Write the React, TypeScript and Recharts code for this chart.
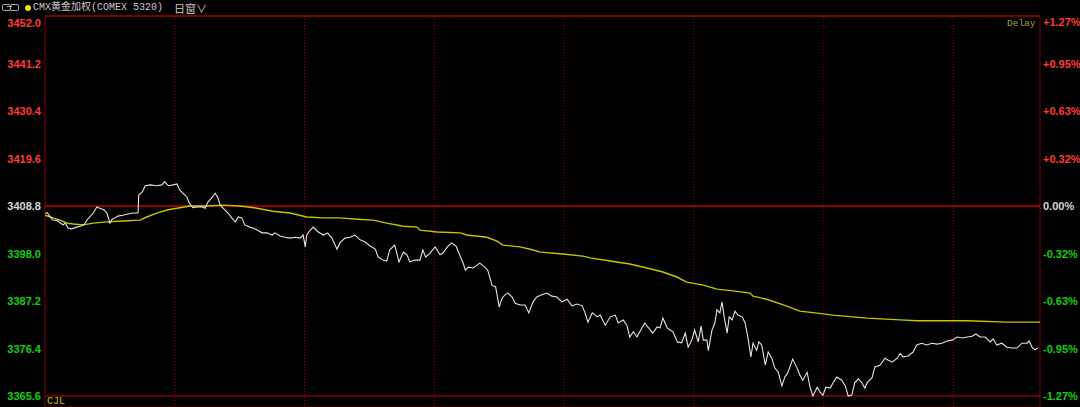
import { CartesianGrid, Line, LineChart, ReferenceLine, XAxis, YAxis } from "recharts";

// minutes since session open (23h session) and last price
const priceMinutes = [
  0, 3, 7, 11, 17, 21, 25, 28, 32, 37, 44, 51, 55, 58, 62, 67, 72, 76, 82, 86, 90, 93, 97, 101, 108, 115, 122, 129,
  130, 135, 139, 146, 155, 162, 166, 171, 178, 183, 187, 191, 197, 200, 205, 211, 218, 222, 226, 232, 236, 240, 243,
  247, 254, 259, 264, 268, 273, 277, 284, 288, 295, 301, 308, 315, 319, 326, 333, 340, 347, 354, 358, 361, 363, 368,
  372, 379, 386, 392, 398, 405, 409, 416, 423, 430, 437, 444, 451, 458, 462, 469, 474, 478, 485, 491, 497, 502, 506,
  513, 520, 524, 528, 534, 541, 548, 552, 558, 564, 570, 574, 580, 583, 587, 594, 603, 610, 614, 620, 625, 630, 634,
  638, 642, 648, 652, 659, 666, 671, 677, 682, 689, 696, 703, 710, 717, 724, 731, 738, 745, 749, 753, 759, 766, 770,
  777, 784, 791, 795, 802, 807, 811, 816, 821, 828, 832, 836, 843, 849, 853, 857, 863, 867, 871, 877, 883, 888, 892,
  897, 901, 906, 910, 913, 918, 920, 925, 929, 932, 936, 939, 942, 946, 949, 953, 957, 961, 967, 971, 975, 979, 982,
  987, 990, 994, 999, 1003, 1008, 1012, 1017, 1022, 1026, 1030, 1037, 1043, 1047, 1051, 1057, 1061, 1065, 1071, 1075,
  1079, 1083, 1089, 1093, 1098, 1105, 1110, 1114, 1119, 1123, 1128, 1133, 1137, 1141, 1147, 1151, 1158, 1165, 1169,
  1175, 1182, 1186, 1190, 1197, 1204, 1209, 1216, 1223, 1230, 1237, 1244, 1251, 1258, 1265, 1272, 1279, 1286, 1291,
  1297, 1304, 1311, 1315, 1320, 1327, 1334, 1341, 1348, 1355, 1362, 1365, 1369, 1373, 1377,
];
const prices = [
  3407.1, 3407.3, 3406.4, 3405.6, 3405.5, 3405.0, 3404.5, 3404.9, 3403.8, 3403.6, 3404.0, 3404.3, 3404.7, 3405.6,
  3406.3, 3407.2, 3408.6, 3408.3, 3407.9, 3407.2, 3404.9, 3405.8, 3406.1, 3406.5, 3406.7, 3407.0, 3407.2, 3407.2,
  3411.3, 3412.0, 3413.4, 3413.6, 3413.4, 3413.6, 3414.3, 3413.4, 3413.6, 3413.8, 3412.4, 3411.8, 3410.8, 3409.5,
  3408.4, 3408.6, 3408.6, 3408.3, 3409.7, 3410.8, 3411.7, 3410.6, 3409.0, 3408.3, 3407.2, 3406.1, 3405.2, 3406.3,
  3406.1, 3404.5, 3404.0, 3403.8, 3403.3, 3402.7, 3402.7, 3402.2, 3402.7, 3402.0, 3401.7, 3401.5, 3401.7, 3401.5,
  3402.2, 3399.5, 3402.2, 3403.3, 3404.0, 3402.9, 3402.2, 3402.7, 3401.5, 3399.0, 3400.4, 3401.5, 3401.7, 3402.2,
  3401.1, 3400.6, 3399.7, 3399.0, 3397.2, 3396.5, 3396.3, 3398.8, 3399.9, 3396.1, 3398.3, 3397.7, 3396.1, 3396.5,
  3396.5, 3398.8, 3397.2, 3398.1, 3399.5, 3397.7, 3398.1, 3399.5, 3400.4, 3399.7, 3398.1, 3395.8, 3394.2, 3394.9,
  3394.7, 3395.8, 3394.9, 3394.2, 3390.8, 3390.4, 3385.8, 3387.9, 3388.6, 3389.0, 3388.1, 3386.7, 3386.3, 3386.3,
  3384.5, 3387.0, 3388.1, 3388.6, 3389.0, 3388.3, 3388.1, 3387.0, 3387.6, 3386.1, 3386.5, 3386.1, 3384.5, 3382.4,
  3384.5, 3383.6, 3384.0, 3381.7, 3383.6, 3384.0, 3382.2, 3382.9, 3381.7, 3379.0, 3380.2, 3379.0, 3381.1, 3382.2,
  3381.3, 3379.9, 3381.3, 3381.1, 3383.3, 3381.1, 3380.6, 3380.2, 3377.9, 3377.7, 3379.9, 3376.7, 3378.3, 3380.6,
  3377.9, 3381.5, 3378.3, 3378.3, 3375.9, 3380.6, 3382.2, 3385.2, 3384.5, 3387.0, 3383.6, 3379.9, 3383.6, 3382.9,
  3384.9, 3384.0, 3383.6, 3382.2, 3378.8, 3374.5, 3377.6, 3376.0, 3377.9, 3377.2, 3372.7, 3375.6, 3374.2, 3372.0,
  3371.0, 3367.9, 3369.9, 3370.8, 3374.0, 3372.0, 3370.4, 3369.2, 3371.0, 3367.6, 3365.6, 3367.6, 3366.5, 3365.8,
  3367.6, 3367.4, 3368.6, 3369.9, 3369.2, 3367.9, 3365.6, 3365.8, 3368.6, 3369.5, 3368.6, 3367.4, 3368.8, 3369.7,
  3372.2, 3372.6, 3374.2, 3373.8, 3373.3, 3374.2, 3375.3, 3374.5, 3374.7, 3375.6, 3377.2, 3377.6, 3377.2, 3377.6,
  3377.4, 3377.6, 3378.1, 3378.3, 3379.0, 3378.8, 3379.0, 3379.2, 3379.7, 3379.0, 3379.0, 3377.9, 3378.6, 3377.2,
  3377.6, 3376.7, 3376.5, 3376.5, 3377.6, 3377.6, 3378.1, 3376.7, 3376.1, 3376.5,
];

// average price line
const avgMinutes = [
  0, 11, 21, 31, 39, 53, 67, 86, 108, 132, 141, 155, 169, 183, 201, 225, 247, 270, 294, 316, 340, 363, 386, 409, 433,
  455, 474, 497, 516, 520, 544, 576, 585, 613, 627, 635, 659, 677, 687, 718, 746, 756, 784, 811, 835, 857, 877, 890,
  913, 932, 954, 978, 982, 1001, 1024, 1047, 1068, 1093, 1140, 1186, 1209, 1279, 1334, 1380,
];
const avgPrices = [
  3406.7, 3406.1, 3405.6, 3404.9, 3404.7, 3404.5, 3404.9, 3405.2, 3405.4, 3405.6, 3406.3, 3407.2, 3407.9, 3408.3,
  3408.8, 3408.8, 3409.0, 3408.8, 3408.3, 3407.6, 3407.2, 3406.3, 3406.1, 3406.1, 3405.8, 3405.6, 3404.9, 3404.2,
  3404.0, 3403.3, 3402.9, 3402.7, 3402.2, 3401.7, 3400.8, 3399.9, 3399.5, 3398.8, 3398.3, 3397.9, 3397.4, 3397.0,
  3396.3, 3395.6, 3394.7, 3393.8, 3392.6, 3391.5, 3390.8, 3389.9, 3389.5, 3389.0, 3388.3, 3387.6, 3386.3, 3384.9,
  3384.5, 3384.0, 3383.3, 3382.9, 3382.7, 3382.7, 3382.4, 3382.4,
];

const priceTicks = [3365.6, 3376.4, 3387.2, 3398.0, 3408.8, 3419.6, 3430.4, 3441.2, 3452.0];
const hourLines = [180, 360, 540, 720, 900, 1080, 1260];
const prevClose = 3408.8;
const sessionMinutes = 1380;

const priceData = priceMinutes.map((t, i) => ({ t, v: prices[i] }));
const avgData = avgMinutes.map((t, i) => ({ t, v: avgPrices[i] }));

const UP = "#ff3a3a";
const DOWN = "#10d010";
const FLAT = "#d8d8d8";
const tickFont = { fontFamily: "'Liberation Sans', Arial, sans-serif", fontSize: 11, fontWeight: 700 };
const headFont = "'Liberation Mono', 'Noto Sans CJK SC', monospace";

function tickColor(v: number) {
  if (Math.abs(v - prevClose) < 1e-6) return FLAT;
  return v > prevClose ? UP : DOWN;
}

function LeftTick({ y, payload }: any) {
  const v = payload.value;
  const dy = v === 3452.0 ? 11 : 4;
  return (
    <text x={41} y={y + dy} textAnchor="end" fill={tickColor(v)} {...tickFont}>
      {v.toFixed(1)}
    </text>
  );
}

function RightTick({ y, payload }: any) {
  const v = payload.value;
  const pct = ((v - prevClose) / prevClose) * 100;
  const label = Math.abs(pct) < 0.005 ? "0.00%" : (pct > 0 ? "+" : "") + pct.toFixed(2) + "%";
  const dy = v === 3452.0 ? 10 : 4;
  return (
    <text x={1043} y={y + dy} textAnchor="start" fill={tickColor(v)} {...tickFont}>
      {label}
    </text>
  );
}

export default function App() {
  return (
    <div
      style={{
        position: "absolute",
        left: 0,
        top: 0,
        width: 1080,
        height: 407,
        background: "#000",
        overflow: "hidden",
      }}
    >
      {/* header */}
      <div style={{ position: "absolute", left: 2, top: 4, width: 7, height: 5, border: "1px solid #a8a8a8", borderRadius: 2 }} />
      <div style={{ position: "absolute", left: 10, top: 4, width: 7, height: 5, border: "1px solid #a8a8a8", borderRadius: 2 }} />
      <div style={{ position: "absolute", left: 7, top: 6, width: 5, height: 1, background: "#a8a8a8" }} />
      <div style={{ position: "absolute", left: 25, top: 5, width: 6, height: 6, borderRadius: 3, background: "#e6e600" }} />
      <div
        style={{
          position: "absolute",
          left: 33,
          top: 0,
          fontSize: 10,
          lineHeight: "16px",
          color: "#c8c8c8",
          fontFamily: headFont,
          whiteSpace: "pre",
        }}
      >
        CMX黄金加权(COMEX 5320)
      </div>
      <div
        style={{
          position: "absolute",
          left: 174,
          top: 0,
          fontSize: 11,
          lineHeight: "16px",
          color: "#c8c8c8",
          fontFamily: "'Noto Sans CJK SC', sans-serif",
        }}
      >
        日窗∨
      </div>
      <div
        style={{
          position: "absolute",
          left: 1007,
          top: 17,
          fontSize: 9.5,
          lineHeight: "14px",
          color: "#a8a040",
          fontFamily: "'Liberation Mono', monospace",
        }}
      >
        Delay
      </div>
      <div
        style={{
          position: "absolute",
          left: 47,
          top: 397,
          fontSize: 10,
          lineHeight: "10px",
          color: "#d0c000",
          fontFamily: "'Liberation Mono', monospace",
        }}
      >
        CJL
      </div>

      <LineChart width={1080} height={407} margin={{ top: 16, right: 0, left: 0, bottom: 0 }}>
        <CartesianGrid stroke="#5e0000" vertical={false} />
        <XAxis type="number" dataKey="t" domain={[0, sessionMinutes]} allowDataOverflow hide />
        <YAxis
          yAxisId="left"
          type="number"
          domain={[3363.1, 3452.0]}
          allowDataOverflow
          ticks={priceTicks}
          width={45}
          axisLine={false}
          tickLine={false}
          tick={<LeftTick />}
        />
        <YAxis
          yAxisId="right"
          orientation="right"
          type="number"
          domain={[3363.1, 3452.0]}
          allowDataOverflow
          ticks={priceTicks}
          width={40}
          axisLine={false}
          tickLine={false}
          tick={<RightTick />}
        />
        {hourLines.map((m) => (
          <ReferenceLine key={m} yAxisId="left" x={m} stroke="#8a0000" strokeDasharray="1 2" />
        ))}
        <ReferenceLine yAxisId="left" x={0} stroke="#8c0000" />
        <ReferenceLine yAxisId="left" x={sessionMinutes} stroke="#7a0000" />
        <ReferenceLine yAxisId="left" y={3452.0} stroke="#c80000" />
        <ReferenceLine yAxisId="left" y={3365.6} stroke="#d00000" />
        <ReferenceLine yAxisId="left" y={prevClose} stroke="#c00000" strokeWidth={1.5} />
        <Line
          yAxisId="left"
          data={avgData}
          dataKey="v"
          type="linear"
          stroke="#c4c400"
          strokeWidth={1.4}
          dot={false}
          isAnimationActive={false}
        />
        <Line
          yAxisId="left"
          data={priceData}
          dataKey="v"
          type="linear"
          stroke="#e4e4e4"
          strokeWidth={1.1}
          dot={false}
          isAnimationActive={false}
        />
      </LineChart>
    </div>
  );
}
